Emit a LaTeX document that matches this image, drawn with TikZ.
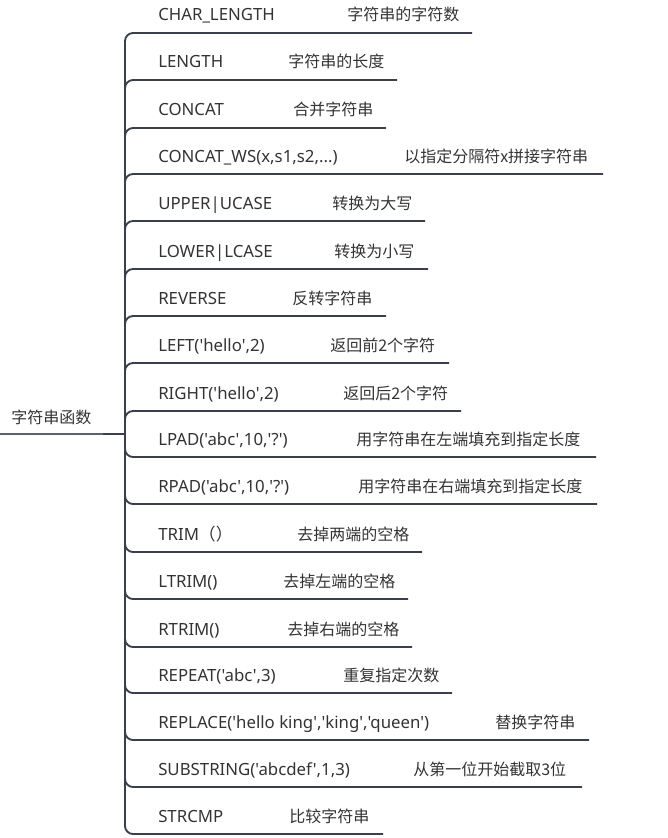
\documentclass[tikz,border=0pt]{standalone}
\usepackage{fontspec}
\setmainfont{Noto Sans}[Ligatures=TeXOff]
\newfontfamily\cjk{Noto Sans CJK SC}
\usepackage{xcolor}
\definecolor{linegray}{HTML}{3B3F4D}
\definecolor{rootgray}{HTML}{5E6270}
\definecolor{textgray}{HTML}{333333}

\begin{document}
\begin{tikzpicture}[x=0.75pt,y=-0.75pt,
        fname/.style={anchor=base west,inner sep=0pt,text=textgray,font=\fontsize{12.6}{14}\selectfont},
        fdesc/.style={fname,font=\cjk\fontsize{12}{14}\selectfont},
        branch/.style={draw=linegray,line width=1.4pt,rounded corners=6pt},
        rootline/.style={draw=rootgray,line width=1pt}]

      \useasboundingbox (0,0) rectangle (667,838);

      % root
      \node[fdesc] (root) at (11,423) {字符串函数};
      \coordinate (rootend)  at (0,434);
      \coordinate (rootknot) at (103,434);
      \coordinate (j)        at (125,434);

      % functions and their meanings
      \node[fname] (f0)  at (158,21)  {CHAR\_LENGTH};
      \node[fdesc] (d0)  at (347,21)  {字符串的字符数};
      \coordinate  (e0)  at (472,33);

      \node[fname] (f1)  at (158,68)  {LENGTH};
      \node[fdesc] (d1)  at (288,68)  {字符串的长度};
      \coordinate  (e1)  at (397,80);

      \node[fname] (f2)  at (158,116) {CONCAT};
      \node[fdesc] (d2)  at (293,116) {合并字符串};
      \coordinate  (e2)  at (386,128);

      \node[fname] (f3)  at (158,162) {CONCAT\_WS(x,s1,s2,...)};
      \node[fdesc] (d3)  at (404,162) {以指定分隔符x拼接字符串};
      \coordinate  (e3)  at (603,174);

      \node[fname] (f4)  at (158,209) {UPPER|UCASE};
      \node[fdesc] (d4)  at (332,209) {转换为大写};
      \coordinate  (e4)  at (425,221);

      \node[fname] (f5)  at (158,257) {LOWER|LCASE};
      \node[fdesc] (d5)  at (334,257) {转换为小写};
      \coordinate  (e5)  at (428,269);

      \node[fname] (f6)  at (158,304) {REVERSE};
      \node[fdesc] (d6)  at (292,304) {反转字符串};
      \coordinate  (e6)  at (386,316);

      \node[fname] (f7)  at (158,351) {LEFT('hello',2)};
      \node[fdesc] (d7)  at (330,351) {返回前2个字符};
      \coordinate  (e7)  at (449,363);

      \node[fname] (f8)  at (158,399) {RIGHT('hello',2)};
      \node[fdesc] (d8)  at (343,399) {返回后2个字符};
      \coordinate  (e8)  at (461,411);

      \node[fname] (f9)  at (158,445) {LPAD('abc',10,'?')};
      \node[fdesc] (d9)  at (356,445) {用字符串在左端填充到指定长度};
      \coordinate  (e9)  at (596,457);

      \node[fname] (f10) at (158,492) {RPAD('abc',10,'?')};
      \node[fdesc] (d10) at (358,492) {用字符串在右端填充到指定长度};
      \coordinate  (e10) at (597,504);

      \node[fname] (f11) at (158,540) {TRIM{\cjk （）}};
      \node[fdesc] (d11) at (297,540) {去掉两端的空格};
      \coordinate  (e11) at (422,552);

      \node[fname] (f12) at (158,587) {LTRIM()};
      \node[fdesc] (d12) at (283,587) {去掉左端的空格};
      \coordinate  (e12) at (408,599);

      \node[fname] (f13) at (158,635) {RTRIM()};
      \node[fdesc] (d13) at (287,635) {去掉右端的空格};
      \coordinate  (e13) at (412,647);

      \node[fname] (f14) at (158,681) {REPEAT('abc',3)};
      \node[fdesc] (d14) at (343,681) {重复指定次数};
      \coordinate  (e14) at (452,693);

      \node[fname] (f15) at (158,728) {REPLACE('hello king','king','queen')};
      \node[fdesc] (d15) at (495,728) {替换字符串};
      \coordinate  (e15) at (589,740);

      \node[fname] (f16) at (158,775) {SUBSTRING('abcdef',1,3)};
      \node[fdesc] (d16) at (413,775) {从第一位开始截取3位};
      \coordinate  (e16) at (582,787);

      \node[fname] (f17) at (158,822) {STRCMP};
      \node[fdesc] (d17) at (289,822) {比较字符串};
      \coordinate  (e17) at (383,834);

      % connectors
      \draw[rootline] (rootend) -- (rootknot);
      \draw[branch,line width=2pt] (rootknot) -- (j);
      \foreach \i in {0,...,17}
        \draw[branch] (j) |- (e\i);
\end{tikzpicture}
\end{document}
